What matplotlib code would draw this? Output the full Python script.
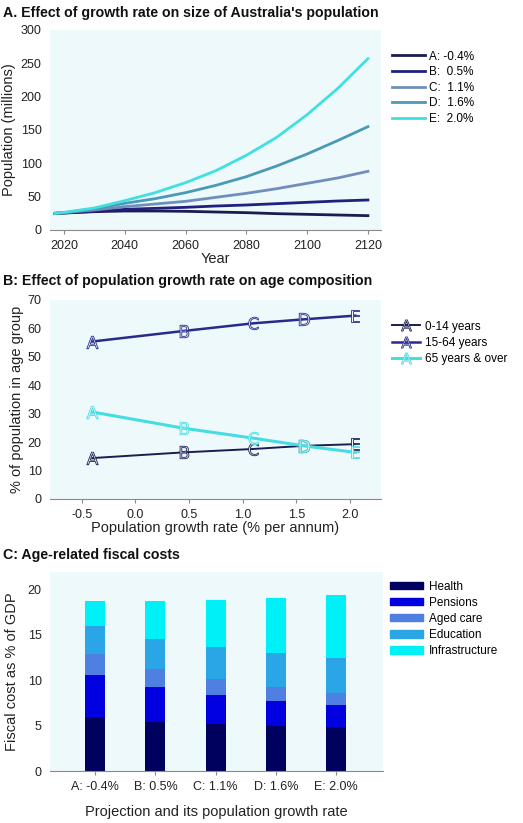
"""Australian population projections: size, age mix and fiscal costs."""
import matplotlib.pyplot as plt
from matplotlib.lines import Line2D
from matplotlib.patches import Patch

plt.rcParams["font.family"] = ["Liberation Sans", "DejaVu Sans"]
plt.rcParams["font.size"] = 9

# Panel A data: population (millions) by year
years = [2017, 2020, 2030, 2040, 2050, 2060, 2070, 2080, 2090, 2100, 2110, 2120]
pop_a = [25, 25.5, 27.5, 28.5, 28.5, 28, 27, 26, 24.5, 23.5, 22.5, 21.5]
pop_b = [25, 25.5, 28, 31, 32.5, 34, 36, 37.5, 39.5, 41.5, 43.5, 45]
pop_c = [25, 26, 30, 35, 39, 43, 49, 55, 62, 70, 78, 88]
pop_d = [25, 26, 32, 40, 47, 56, 67, 80, 96, 114, 134, 155]
pop_e = [25, 26.5, 33, 44, 56, 71, 89, 112, 139, 173, 212, 257]
scenario_labels = ["A: -0.4%", "B:  0.5%", "C:  1.1%", "D:  1.6%", "E:  2.0%"]

# Panel B data: share of population in each age group
growth = [-0.4, 0.45, 1.1, 1.57, 2.05]
point_letters = ["A", "B", "C", "D", "E"]
age_0_14 = [14.4, 16.4, 17.6, 18.7, 19.3]
age_15_64 = [55.4, 59.1, 61.8, 63.2, 64.5]
age_65_plus = [30.6, 24.9, 21.4, 18.7, 16.4]
age_labels = ["0-14 years", "15-64 years", "65 years & over"]

# Panel C data: fiscal cost as % of GDP
projections = ["A: -0.4%", "B: 0.5%", "C: 1.1%", "D: 1.6%", "E: 2.0%"]
cost_names = ["Health", "Pensions", "Aged care", "Education", "Infrastructure"]
health = [5.97, 5.42, 5.16, 4.95, 4.80]
pensions = [4.58, 3.85, 3.19, 2.78, 2.45]
aged_care = [2.38, 2.0, 1.72, 1.54, 1.28]
education = [3.0, 3.26, 3.59, 3.73, 3.96]
infrastructure = [2.75, 4.18, 5.2, 6.08, 6.92]

bg = "#eef9fc"
spine_col = "#8a8a8a"
text_col = "#222222"


def style_axes(ax):
    ax.set_facecolor(bg)
    for side in ["top", "right", "left"]:
        ax.spines[side].set_visible(False)
    ax.spines["bottom"].set_color(spine_col)
    ax.tick_params(axis="y", length=0, colors=text_col, pad=6)
    ax.tick_params(axis="x", length=3, color=spine_col, colors=text_col, pad=4)


fig = plt.figure(figsize=(5.23, 8.23), dpi=100)
W, H = 523, 823


def add_axes(x0, y0, x1, y1):
    return fig.add_axes([x0 / W, 1 - y1 / H, (x1 - x0) / W, (y1 - y0) / H])


def letter(ch):
    return r"$\mathsf{" + ch + "}$"


# ---- Panel A ----
ax1 = add_axes(50, 30, 381, 230)
style_axes(ax1)
line_cols = ["#1c1c50", "#20207f", "#6f8fba", "#4a9ab5", "#40e0e0"]
for vals, col, lab in zip([pop_a, pop_b, pop_c, pop_d, pop_e], line_cols, scenario_labels):
    ax1.plot(years, vals, color=col, lw=2, label=lab)
ax1.set_xlim(2015.4, 2124.3)
ax1.set_ylim(0, 300)
ax1.set_xticks([2020, 2040, 2060, 2080, 2100, 2120])
ax1.set_yticks(range(0, 301, 50))
ax1.set_xlabel("Year", fontsize=10.5, color=text_col, labelpad=0)
ax1.set_ylabel("Population (millions)", fontsize=10.5, color=text_col, labelpad=3)
ax1.legend(loc="upper left", bbox_to_anchor=(1.0, 0.95), frameon=False,
           handlelength=2.8, handletextpad=0.4, labelspacing=0.3, fontsize=8.5)
fig.text(3 / W, 1 - 13 / H, "A. Effect of growth rate on size of Australia's population",
         fontsize=10.2, fontweight="bold", va="center", color="#111111")

# ---- Panel B ----
ax2 = add_axes(50, 300, 381, 499)
style_axes(ax2)
age_cols = ["#1c1c50", "#2a2a8a", "#45dde2"]
age_widths = [1.4, 1.8, 2.2]
for vals, col, lw in zip([age_0_14, age_15_64, age_65_plus], age_cols, age_widths):
    ax2.plot(growth, vals, color=col, lw=lw)
    for gx, gy, ch in zip(growth, vals, point_letters):
        ax2.plot([gx], [gy], marker=letter(ch), color=col, ms=9,
                 markerfacecolor=bg, markeredgecolor=col, markeredgewidth=0.6,
                 linestyle="none")
ax2.set_xlim(-0.795, 2.29)
ax2.set_ylim(0, 70)
ax2.set_xticks([-0.5, 0.0, 0.5, 1.0, 1.5, 2.0])
ax2.set_xticklabels(["-0.5", "0.0", "0.5", "1.0", "1.5", "2.0"])
ax2.set_yticks(range(0, 71, 10))
ax2.set_xlabel("Population growth rate (% per annum)", fontsize=10.5, color=text_col,
               labelpad=0)
ax2.set_ylabel("% of population in age group", fontsize=10.5, color=text_col, labelpad=3)
age_handles = [Line2D([], [], color=c, lw=lw, marker=letter("A"), ms=8,
                      markerfacecolor=bg, markeredgecolor=c, markeredgewidth=0.6)
               for c, lw in zip(age_cols, age_widths)]
ax2.legend(age_handles, age_labels, loc="upper left", bbox_to_anchor=(1.0, 0.95),
           frameon=False, handlelength=2.4, handletextpad=0.4, labelspacing=0.35,
           fontsize=8.5)
fig.text(3 / W, 1 - 281 / H, "B: Effect of population growth rate on age composition",
         fontsize=10.2, fontweight="bold", va="center", color="#111111")

# ---- Panel C ----
ax3 = add_axes(50, 572, 383, 771)
style_axes(ax3)
bar_cols = ["#00005e", "#0000e0", "#4f7fe0", "#2aa5e5", "#00f0f8"]
xpos = list(range(len(projections)))
bottom = [0.0] * len(projections)
for vals, col, name in zip([health, pensions, aged_care, education, infrastructure],
                           bar_cols, cost_names):
    ax3.bar(xpos, vals, width=0.33, bottom=bottom, color=col, label=name)
    bottom = [b + v for b, v in zip(bottom, vals)]
ax3.set_xlim(-0.75, 4.78)
ax3.set_ylim(0, 21.9)
ax3.set_xticks(xpos)
ax3.set_xticklabels(projections)
ax3.set_yticks(range(0, 21, 5))
ax3.set_xlabel("Projection and its population growth rate", fontsize=10.5,
               color=text_col, labelpad=9)
ax3.set_ylabel("Fiscal cost as % of GDP", fontsize=10.5, color=text_col, labelpad=6)
cost_handles = [Patch(color=c) for c in bar_cols]
ax3.legend(cost_handles, cost_names, loc="upper left", bbox_to_anchor=(0.99, 1.01),
           frameon=False, handlelength=2.8, handleheight=0.6, handletextpad=0.5,
           labelspacing=0.35, fontsize=8.5)
fig.text(3 / W, 1 - 555 / H, "C: Age-related fiscal costs",
         fontsize=10.2, fontweight="bold", va="center", color="#111111")

fig.savefig("out.png", dpi=100, facecolor="white")
